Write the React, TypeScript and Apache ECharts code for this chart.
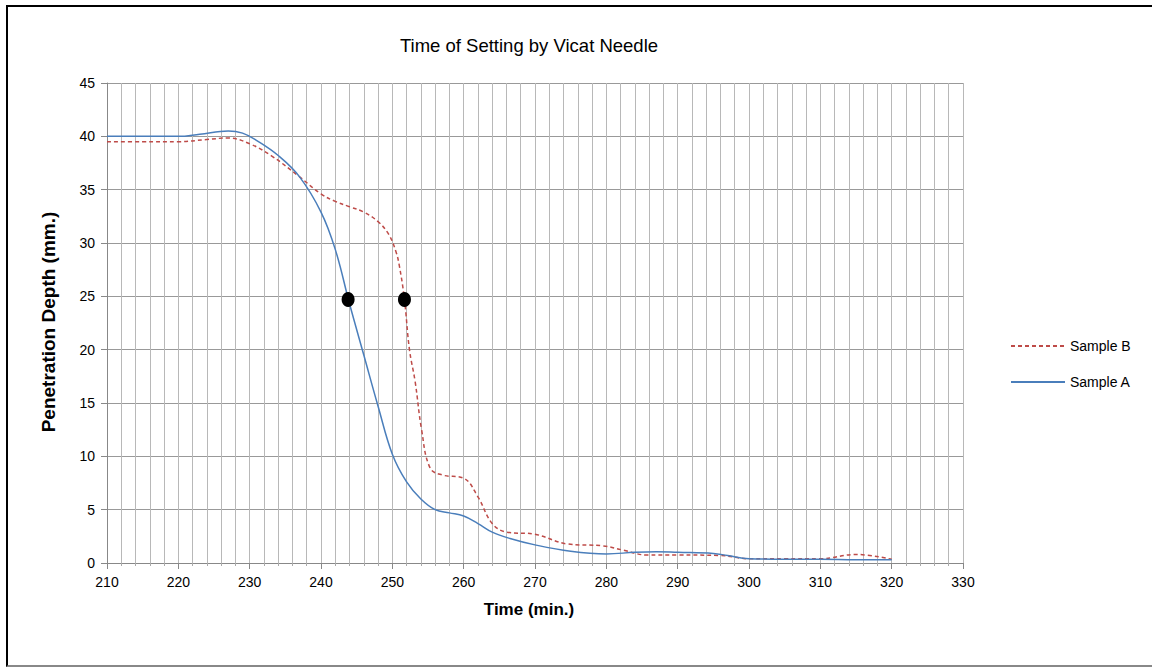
import React, { useEffect, useRef } from "react";
import * as echarts from "echarts";

const titleText = "Time of Setting by Vicat Needle";
const xName = "Time (min.)";
const yName = "Penetration Depth (mm.)";

const sampleATimes = [210, 215, 220, 223, 227, 229, 231, 234, 237, 240, 242, 244, 246, 248, 250, 252, 254, 256, 258, 260, 262, 264, 266.5, 270, 275, 280, 284, 287, 290, 295, 297, 300, 305, 310, 315, 320];
const sampleAValues = [40, 40, 40, 40.2, 40.5, 40.3, 39.6, 38.2, 36.2, 32.9, 29.4, 24.3, 19.5, 14.7, 10.2, 7.6, 6.0, 5.0, 4.7, 4.4, 3.7, 2.9, 2.3, 1.7, 1.1, 0.85, 1.0, 1.05, 1.0, 0.9, 0.7, 0.4, 0.35, 0.35, 0.3, 0.3];

const sampleBTimes = [210, 215, 220, 224, 227, 230, 233, 237, 240, 242, 244, 246, 248, 249.5, 250.5, 251, 251.7, 252.4, 253.2, 254.1, 255.3, 257, 260, 262, 264, 266, 270, 274.4, 279.6, 282.4, 285.7, 290, 296, 300, 305, 310, 315, 320];
const sampleBValues = [39.5, 39.5, 39.5, 39.7, 39.85, 39.3, 38.2, 36.2, 34.6, 33.9, 33.4, 32.9, 32.0, 30.8, 29.2, 27.8, 24.7, 20, 17, 12.5, 8.9, 8.25, 7.95, 6.2, 3.7, 2.9, 2.7, 1.8, 1.6, 1.2, 0.75, 0.75, 0.7, 0.4, 0.4, 0.4, 0.8, 0.35];

const markerTimes = [243.8, 251.7];
const markerValues = [24.7, 24.7];

const xTicks = { min: 210, max: 330, interval: 10 };
const yTicks = { min: 0, max: 45, interval: 5 };

const FONT = "'Liberation Sans', Arial, sans-serif";

const zip = (a: number[], b: number[]) => a.map((v, i) => [v, b[i]]);

export default function App() {
  const ref = useRef<HTMLDivElement>(null);
  useEffect(() => {
    document.body.style.margin = "0";
    if (!ref.current) return;
    const chart = echarts.init(ref.current, undefined, { renderer: "svg" });
    const gridColor = "#b8b8b8";
    chart.setOption({
      animation: false,
      textStyle: { fontFamily: FONT },
      grid: { left: 107, right: 189, top: 83, bottom: 104, containLabel: false },
      graphic: [
        {
          type: "text",
          x: 529,
          y: 45,
          style: { text: titleText, fontSize: 18.5, fontFamily: FONT, fill: "#000", textAlign: "center", textVerticalAlign: "middle" },
        },
        {
          type: "text",
          x: 529,
          y: 609,
          style: { text: xName, fontSize: 17, fontWeight: "bold", fontFamily: FONT, fill: "#000", textAlign: "center", textVerticalAlign: "middle" },
        },
        {
          type: "text",
          x: 48,
          y: 322,
          rotation: Math.PI / 2,
          style: { text: yName, fontSize: 19, fontWeight: "bold", fontFamily: FONT, fill: "#000", textAlign: "center", textVerticalAlign: "middle" },
        },
      ],
      legend: {
        orient: "vertical",
        left: 1005,
        top: 334,
        data: ["Sample B", "Sample A"],
        itemWidth: 54,
        itemHeight: 10,
        itemGap: 22,
        itemStyle: { opacity: 0 },
        textStyle: { fontSize: 14, color: "#000", fontFamily: FONT },
      },
      xAxis: {
        type: "value",
        min: xTicks.min,
        max: xTicks.max,
        interval: xTicks.interval,
        axisLine: { show: true, lineStyle: { color: "#888", width: 1 } },
        axisTick: { show: true, length: 6, lineStyle: { color: "#888" } },
        minorTick: { show: true, splitNumber: 5, length: 3, lineStyle: { color: "#aaa" } },
        splitLine: { show: true, lineStyle: { color: gridColor, width: 1 } },
        minorSplitLine: { show: true, lineStyle: { color: gridColor, width: 1 } },
        axisLabel: { fontSize: 14, color: "#000", margin: 12, fontFamily: FONT },
      },
      yAxis: {
        type: "value",
        min: yTicks.min,
        max: yTicks.max,
        interval: yTicks.interval,
        axisLine: { show: true, lineStyle: { color: "#888", width: 1 } },
        axisTick: { show: true, length: 6, lineStyle: { color: "#888" } },
        splitLine: { show: true, lineStyle: { color: "#999", width: 1 } },
        axisLabel: { fontSize: 14, color: "#000", margin: 12, fontFamily: FONT },
      },
      series: [
        {
          name: "Sample B",
          type: "line",
          data: zip(sampleBTimes, sampleBValues),
          smooth: 0.4,
          symbol: "none",
          lineStyle: { color: "#be4b48", width: 1.5, type: [4, 3] },
          itemStyle: { color: "#be4b48" },
          z: 3,
        },
        {
          name: "Sample A",
          type: "line",
          data: zip(sampleATimes, sampleAValues),
          smooth: 0.4,
          symbol: "none",
          lineStyle: { color: "#4a7ebb", width: 1.5 },
          itemStyle: { color: "#4a7ebb" },
          z: 3,
        },
        {
          name: "Setting",
          type: "scatter",
          data: zip(markerTimes, markerValues),
          symbol: "circle",
          symbolSize: [13, 15],
          itemStyle: { color: "#000", borderWidth: 0, opacity: 1 },
          z: 5,
        },
      ],
    });
    return () => chart.dispose();
  }, []);
  return (
    <div style={{ position: "relative", width: 1152, height: 667, overflow: "hidden", background: "#fff" }}>
      <div
        style={{
          position: "absolute",
          left: 6,
          top: 5,
          width: 1160,
          height: 662,
          borderTop: "2px solid #000",
          borderLeft: "2px solid #000",
          borderBottom: "2px solid #888",
          boxSizing: "border-box",
        }}
      />
      <div ref={ref} style={{ position: "absolute", left: 0, top: 0, width: 1152, height: 667 }} />
    </div>
  );
}
